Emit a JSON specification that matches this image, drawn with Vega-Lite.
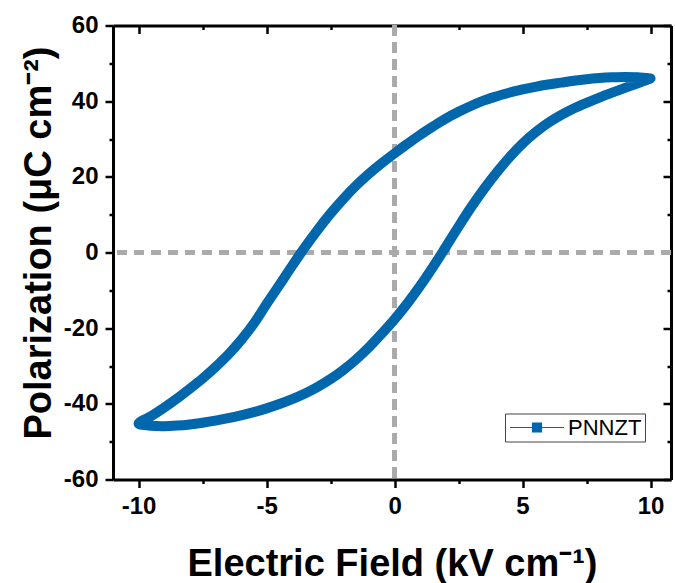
{
  "$schema": "https://vega.github.io/schema/vega-lite/v6.json",
  "autosize": {"type": "none"},
  "width": 558,
  "height": 454,
  "padding": {"left": 113, "top": 25.5, "right": 4, "bottom": 103.5},
  "background": "white",
  "config": {
    "view": {"stroke": null},
    "font": "Liberation Sans",
    "axis": {
      "grid": false,
      "domainColor": "black",
      "domainWidth": 3,
      "tickColor": "black",
      "tickWidth": 2.5,
      "labelFont": "Liberation Sans",
      "labelFontWeight": "bold",
      "labelFontSize": 24,
      "labelColor": "black",
      "titleFont": "Liberation Sans",
      "titleFontWeight": "bold",
      "titleFontSize": 38,
      "titleColor": "black"
    }
  },
  "data": {
    "values": [
      {"i": 0, "E": 10, "P": 46.0, "s": "PNNZT"},
      {"i": 1, "E": 9.5, "P": 46.3, "s": "PNNZT"},
      {"i": 2, "E": 9, "P": 46.4, "s": "PNNZT"},
      {"i": 3, "E": 8.5, "P": 46.3, "s": "PNNZT"},
      {"i": 4, "E": 8, "P": 46.1, "s": "PNNZT"},
      {"i": 5, "E": 7.5, "P": 45.8, "s": "PNNZT"},
      {"i": 6, "E": 7, "P": 45.4, "s": "PNNZT"},
      {"i": 7, "E": 6.5, "P": 44.9, "s": "PNNZT"},
      {"i": 8, "E": 6, "P": 44.4, "s": "PNNZT"},
      {"i": 9, "E": 5.5, "P": 43.8, "s": "PNNZT"},
      {"i": 10, "E": 5, "P": 43.1, "s": "PNNZT"},
      {"i": 11, "E": 4.5, "P": 42.3, "s": "PNNZT"},
      {"i": 12, "E": 4, "P": 41.3, "s": "PNNZT"},
      {"i": 13, "E": 3.5, "P": 40.2, "s": "PNNZT"},
      {"i": 14, "E": 3, "P": 38.8, "s": "PNNZT"},
      {"i": 15, "E": 2.5, "P": 37.2, "s": "PNNZT"},
      {"i": 16, "E": 2, "P": 35.4, "s": "PNNZT"},
      {"i": 17, "E": 1.5, "P": 33.3, "s": "PNNZT"},
      {"i": 18, "E": 1, "P": 31.1, "s": "PNNZT"},
      {"i": 19, "E": 0.5, "P": 28.7, "s": "PNNZT"},
      {"i": 20, "E": 0, "P": 26.2, "s": "PNNZT"},
      {"i": 21, "E": -0.5, "P": 23.6, "s": "PNNZT"},
      {"i": 22, "E": -1, "P": 20.8, "s": "PNNZT"},
      {"i": 23, "E": -1.5, "P": 17.7, "s": "PNNZT"},
      {"i": 24, "E": -2, "P": 14.2, "s": "PNNZT"},
      {"i": 25, "E": -2.5, "P": 10.3, "s": "PNNZT"},
      {"i": 26, "E": -3, "P": 6.0, "s": "PNNZT"},
      {"i": 27, "E": -3.5, "P": 1.4, "s": "PNNZT"},
      {"i": 28, "E": -4, "P": -3.5, "s": "PNNZT"},
      {"i": 29, "E": -4.5, "P": -8.6, "s": "PNNZT"},
      {"i": 30, "E": -5, "P": -13.6, "s": "PNNZT"},
      {"i": 31, "E": -5.5, "P": -18.8, "s": "PNNZT"},
      {"i": 32, "E": -6, "P": -23.2, "s": "PNNZT"},
      {"i": 33, "E": -6.5, "P": -27.0, "s": "PNNZT"},
      {"i": 34, "E": -7, "P": -30.3, "s": "PNNZT"},
      {"i": 35, "E": -7.5, "P": -33.3, "s": "PNNZT"},
      {"i": 36, "E": -8, "P": -36.0, "s": "PNNZT"},
      {"i": 37, "E": -8.5, "P": -38.6, "s": "PNNZT"},
      {"i": 38, "E": -9, "P": -41.0, "s": "PNNZT"},
      {"i": 39, "E": -9.5, "P": -43.2, "s": "PNNZT"},
      {"i": 40, "E": -10, "P": -45.2, "s": "PNNZT"},
      {"i": 41, "E": -9.5, "P": -45.8, "s": "PNNZT"},
      {"i": 42, "E": -9, "P": -45.9, "s": "PNNZT"},
      {"i": 43, "E": -8.5, "P": -45.75, "s": "PNNZT"},
      {"i": 44, "E": -8, "P": -45.45, "s": "PNNZT"},
      {"i": 45, "E": -7.5, "P": -45.0, "s": "PNNZT"},
      {"i": 46, "E": -7, "P": -44.45, "s": "PNNZT"},
      {"i": 47, "E": -6.5, "P": -43.8, "s": "PNNZT"},
      {"i": 48, "E": -6, "P": -43.05, "s": "PNNZT"},
      {"i": 49, "E": -5.5, "P": -42.2, "s": "PNNZT"},
      {"i": 50, "E": -5, "P": -41.2, "s": "PNNZT"},
      {"i": 51, "E": -4.5, "P": -40.05, "s": "PNNZT"},
      {"i": 52, "E": -4, "P": -38.75, "s": "PNNZT"},
      {"i": 53, "E": -3.5, "P": -37.25, "s": "PNNZT"},
      {"i": 54, "E": -3, "P": -35.5, "s": "PNNZT"},
      {"i": 55, "E": -2.5, "P": -33.45, "s": "PNNZT"},
      {"i": 56, "E": -2, "P": -31.05, "s": "PNNZT"},
      {"i": 57, "E": -1.5, "P": -28.25, "s": "PNNZT"},
      {"i": 58, "E": -1, "P": -25.05, "s": "PNNZT"},
      {"i": 59, "E": -0.5, "P": -21.45, "s": "PNNZT"},
      {"i": 60, "E": 0, "P": -17.65, "s": "PNNZT"},
      {"i": 61, "E": 0.5, "P": -13.45, "s": "PNNZT"},
      {"i": 62, "E": 1, "P": -8.85, "s": "PNNZT"},
      {"i": 63, "E": 1.5, "P": -3.85, "s": "PNNZT"},
      {"i": 64, "E": 2, "P": 1.45, "s": "PNNZT"},
      {"i": 65, "E": 2.5, "P": 6.85, "s": "PNNZT"},
      {"i": 66, "E": 3, "P": 12.05, "s": "PNNZT"},
      {"i": 67, "E": 3.5, "P": 16.85, "s": "PNNZT"},
      {"i": 68, "E": 4, "P": 21.25, "s": "PNNZT"},
      {"i": 69, "E": 4.5, "P": 25.25, "s": "PNNZT"},
      {"i": 70, "E": 5, "P": 28.8, "s": "PNNZT"},
      {"i": 71, "E": 5.5, "P": 31.75, "s": "PNNZT"},
      {"i": 72, "E": 6, "P": 34.25, "s": "PNNZT"},
      {"i": 73, "E": 6.5, "P": 36.3, "s": "PNNZT"},
      {"i": 74, "E": 7, "P": 38.05, "s": "PNNZT"},
      {"i": 75, "E": 7.5, "P": 39.55, "s": "PNNZT"},
      {"i": 76, "E": 8, "P": 40.95, "s": "PNNZT"},
      {"i": 77, "E": 8.5, "P": 42.25, "s": "PNNZT"},
      {"i": 78, "E": 9, "P": 43.5, "s": "PNNZT"},
      {"i": 79, "E": 9.5, "P": 44.75, "s": "PNNZT"},
      {"i": 80, "E": 10, "P": 46.0, "s": "PNNZT"}
    ]
  },
  "layer": [
    {
      "mark": {"type": "rule", "color": "#aaaaaa", "strokeWidth": 3.5, "strokeDash": [10, 7]},
      "encoding": {
        "x": {
          "datum": 0,
          "type": "quantitative",
          "scale": {"domain": [-11, 10.8], "nice": false, "zero": false},
          "axis": {
            "orient": "top",
            "title": null,
            "labels": false,
            "values": [-10, -7.5, -5, -2.5, 0, 2.5, 5, 7.5, 10],
            "tickSize": {"condition": {"test": "datum.value % 5 !== 0", "value": -4}, "value": -8}
          }
        }
      }
    },
    {
      "mark": {"type": "rule", "color": "#aaaaaa", "strokeWidth": 3.5, "strokeDash": [10, 7]},
      "encoding": {
        "y": {
          "datum": 0,
          "type": "quantitative",
          "scale": {"domain": [-60, 60], "nice": false, "zero": false},
          "axis": {
            "orient": "right",
            "title": null,
            "labels": false,
            "values": [-60, -50, -40, -30, -20, -10, 0, 10, 20, 30, 40, 50, 60],
            "tickSize": {"condition": {"test": "datum.value % 20 !== 0", "value": -4}, "value": -8}
          }
        }
      }
    },
    {
      "mark": {"type": "line", "strokeWidth": 10, "strokeJoin": "round", "strokeCap": "round", "interpolate": "catmull-rom"},
      "encoding": {
        "x": {
          "field": "E",
          "type": "quantitative",
          "axis": {
            "orient": "bottom",
            "title": "Electric Field (kV cm⁻¹)",
            "titleY": 96,
            "titleBaseline": "alphabetic",
            "values": [-10, -7.5, -5, -2.5, 0, 2.5, 5, 7.5, 10],
            "labelExpr": "datum.value % 5 === 0 ? '' + datum.value : ''",
            "labelPadding": 7,
            "labelFlush": false,
            "labelOverlap": false,
            "tickSize": {"condition": {"test": "datum.value % 5 !== 0", "value": 4}, "value": 8}
          }
        },
        "y": {
          "field": "P",
          "type": "quantitative",
          "axis": {
            "orient": "left",
            "title": "Polarization (μC cm⁻²)",
            "titleX": -63,
            "titleY": 217,
            "titleAlign": "center",
            "titleAngle": -90,
            "titleBaseline": "alphabetic",
            "values": [-60, -50, -40, -30, -20, -10, 0, 10, 20, 30, 40, 50, 60],
            "labelExpr": "datum.value % 20 === 0 ? '' + datum.value : ''",
            "labelPadding": 7,
            "labelFlush": false,
            "labelOverlap": false,
            "tickSize": {"condition": {"test": "datum.value % 20 !== 0", "value": 4}, "value": 8}
          }
        },
        "order": {"field": "i", "type": "quantitative"},
        "color": {
          "field": "s",
          "type": "nominal",
          "scale": {"range": ["#0067ac"]},
          "legend": {
            "title": null,
            "orient": "none",
            "legendX": 392,
            "legendY": 388,
            "strokeColor": "#444444",
            "padding": 3,
            "labelFont": "Liberation Sans",
            "labelFontSize": 22,
            "labelFontWeight": "normal",
            "labelColor": "black",
            "labelOffset": 38,
            "symbolType": "M-1.8,0H2.7M4.5,0H9M2.7,-0.9H4.5V0.9H2.7Z",
            "symbolSize": 100,
            "symbolStrokeWidth": 1.2,
            "symbolFillColor": "#0067ac",
            "encode": {
              "symbols": {
                "update": {
                  "fill": {"value": "#0067ac"},
                  "stroke": {"value": "#0067ac"},
                  "strokeWidth": {"value": 1.2}
                }
              }
            }
          }
        }
      }
    }
  ],
  "resolve": {"axis": {"x": "independent", "y": "independent"}}
}
